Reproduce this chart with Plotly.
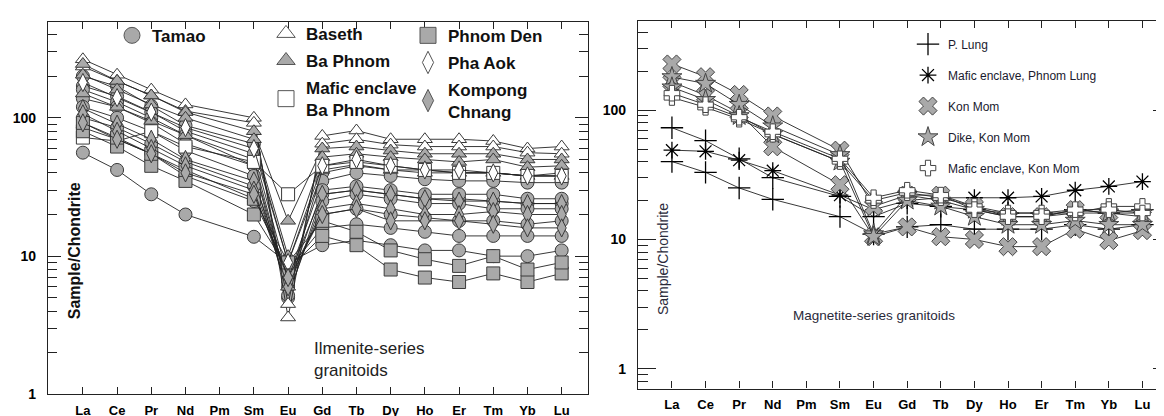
import plotly.graph_objects as go

ELEMENTS = ["La", "Ce", "Pr", "Nd", "Pm", "Sm", "Eu", "Gd", "Tb", "Dy", "Ho", "Er", "Tm", "Yb", "Lu"]
N = None

# ---------- Ilmenite-series granitoids (left panel) ----------
TAMAO = [
    [200, 169, 122, 88, N, 65, 9.0, 40, 45, 42, 42, 40, 40, 38, 40],
    [170, 143, 110, 80, N, 55, 7.0, 35, 40, 38, 36, 35, 35, 34, 34],
    [160, 130, 100, 75, N, 45, 5.0, 28, 30, 28, 26, 26, 25, 24, 24],
    [138, 120, 92, 65, N, 45, 6.0, 30, 32, 30, 28, 28, 28, 26, 26],
    [120, 100, 80, 58, N, 38, 5.2, 25, 28, 26, 24, 24, 22, 22, 22],
    [100, 85, 65, 48, N, 32, 6.5, 20, 22, 20, 19, 18, 18, 17, 18],
    [85, 70, 55, 38, N, 25, 8.0, 16, 17, 16, 15, 14, 14, 14, 14],
    [56, 42, 28, 20, N, 13.8, 8.9, 12, 13, 12, 11, 11, 10, 10, 11],
]
BASETH = [
    [265, 205, 160, 125, N, 100, 3.6, 74, 81, 70, 70, 70, 68, 60, 62],
    [235, 185, 145, 112, N, 92, 4.5, 65, 70, 64, 62, 62, 62, 56, 55],
]
BA_PHNOM = [
    [245, 185, 145, 110, N, 80, 18, 60, 62, 58, 55, 55, 55, 50, 50],
    [205, 160, 125, 100, N, 70, 10, 52, 55, 52, 50, 48, 50, 44, 45],
    [150, 120, 95, 75, N, 50, 6.0, 42, 46, 42, 40, 40, 40, 38, 38],
]
MAFIC_BA_PHNOM = [
    [72, 68, 80, 62, N, 48, 28, 45, 48, 45, 42, 40, 40, 38, 38],
]
PHNOM_DEN = [
    [80, 62, 45, 35, N, 20, 8.0, 14, 12, 8.0, 7.0, 6.5, 7.5, 6.5, 7.5],
    [92, 72, 55, 42, N, 26, 9.0, 18, 15, 11, 9.5, 8.5, 10, 8.0, 9.0],
]
PHA_AOK = [
    [180, 140, 110, 85, N, 60, 9.0, 45, 50, 45, 42, 42, 40, 38, 38],
]
KOMPONG_CHNANG = [
    [117, 90, 70, 50, N, 35, 7.0, 28, 30, 28, 26, 25, 25, 24, 24],
    [107, 80, 60, 45, N, 30, 6.0, 22, 24, 22, 20, 20, 21, 20, 20],
    [92, 70, 55, 40, N, 28, 7.0, 20, 22, 18, 18, 18, 17, 16, 16],
]

# ---------- Magnetite-series granitoids (right panel) ----------
P_LUNG = [
    [73, 58, 42, 30, N, 21.5, 15, 19, 18, 17, 16, 16, 17, 16, 17],
    [40, 33, 25, 20.4, N, 15, 11, 12.5, 13, 12, 12, 12, 13, 12, 13],
]
MAFIC_PHNOM_LUNG = [
    [49, 48, 41, 34, N, 22, 17, 20, 21, 21, 21, 21.5, 24, 25.7, 28],
]
KON_MOM = [
    [227, 181, 132, 90, N, 49, 18, 22, 22, 18, 15, 15, 17, 16, 15],
    [165, 130, 95, 52, N, 26.5, 10.5, 12.5, 10.5, 10, 8.8, 8.8, 12, 9.8, 11.7],
]
DIKE_KON_MOM = [
    [180, 160, 110, 75, N, 45, 11, 22, 20, 17, 15, 15, 16, 16, 16],
    [150, 120, 90, 65, N, 40, 10.5, 20, 18, 15, 13, 13, 14, 13, 13],
]
MAFIC_KON_MOM = [
    [125, 105, 85, 65, N, 40, 20, 23, 21, 18, 16, 16, 16, 18, 18],
    [135, 110, 88, 68, N, 42, 21, 24, 22, 17, 15, 15, 17, 17, 16],
]

GRAY = "#a9a9a9"
EDGE = "#3a3a3a"

LEFT_GROUPS = [
    ("Tamao", TAMAO, "circle", GRAY, "legend"),
    ("Baseth", BASETH, "triangle-up", "white", "legend2"),
    ("Ba Phnom", BA_PHNOM, "triangle-up", GRAY, "legend2"),
    ("Mafic enclave<br>Ba Phnom", MAFIC_BA_PHNOM, "square", "white", "legend2"),
    ("Phnom Den", PHNOM_DEN, "square", GRAY, "legend3"),
    ("Pha Aok", PHA_AOK, "diamond-tall", "white", "legend3"),
    ("Kompong<br>Chnang", KOMPONG_CHNANG, "diamond-tall", GRAY, "legend3"),
]
RIGHT_GROUPS = [
    ("P. Lung", P_LUNG, "cross-thin", "black", 1.3, 16),
    ("Mafic enclave, Phnom Lung", MAFIC_PHNOM_LUNG, "asterisk", "black", 1.3, 14),
    ("Kon Mom", KON_MOM, "x", GRAY, 1.0, 16),
    ("Dike, Kon Mom", DIKE_KON_MOM, "star", GRAY, 1.0, 15),
    ("Mafic enclave, Kon Mom", MAFIC_KON_MOM, "cross", "white", 1.0, 13),
]

fig = go.Figure()

for gi, (name, rows, sym, fill, leg) in enumerate(LEFT_GROUPS):
    for row in rows:
        fig.add_trace(go.Scatter(
            x=ELEMENTS, y=row, mode="lines+markers", connectgaps=True,
            line=dict(color="#222", width=0.9),
            marker=dict(symbol=sym, size=13, color=fill, line=dict(color=EDGE, width=1)),
            showlegend=False, xaxis="x", yaxis="y", hoverinfo="skip"))
    fig.add_trace(go.Scatter(
        x=[None], y=[None], mode="markers", name="<b>%s</b>" % name.replace("<br>", "</b><br><b>"),
        legend=leg, legendgroup="L%d" % gi,
        marker=dict(symbol=sym, size=17, color=fill, line=dict(color="#555", width=1)),
        xaxis="x", yaxis="y"))

for gi, (name, rows, sym, fill, lw, size) in enumerate(RIGHT_GROUPS):
    edge = "black" if fill == "black" else "#444"
    for row in rows:
        fig.add_trace(go.Scatter(
            x=ELEMENTS, y=row, mode="lines+markers", connectgaps=True,
            line=dict(color="#222", width=0.9),
            marker=dict(symbol=sym, size=size, color=fill, line=dict(color=edge, width=lw)),
            showlegend=False, xaxis="x2", yaxis="y2", hoverinfo="skip"))
    fig.add_trace(go.Scatter(
        x=[None], y=[None], mode="markers", name=name, legend="legend4",
        legendgroup="R%d" % gi,
        marker=dict(symbol=sym, size=size, color=fill, line=dict(color=edge, width=lw)),
        xaxis="x2", yaxis="y2"))

W, H = 1164, 416
def px(x):
    return x / W
def py(y):
    return 1 - y / H

MINOR = [2, 3, 4, 5, 6, 7, 8, 9, 20, 30, 40, 50, 60, 70, 80, 90, 200, 300, 400]
MINOR_R = [0.8, 0.9] + MINOR
xfont = dict(family="Liberation Sans", size=13, color="black")
common_x = dict(type="category", categoryorder="array", categoryarray=ELEMENTS,
                showline=True, linecolor="#222", linewidth=1.2, mirror="ticks",
                ticks="inside", ticklen=7, tickcolor="#222", tickwidth=1.2,
                showgrid=False, zeroline=False, tickfont=xfont, ticklabelstandoff=4)
common_y = dict(type="log", showline=True, linecolor="#222", linewidth=1.2, mirror="ticks",
                ticks="inside", ticklen=13, tickcolor="#222", tickwidth=1.2,
                tickvals=[1, 10, 100], ticktext=["<b>1</b>", "<b>10</b>", "<b>100</b>"],
                showgrid=False, zeroline=False, ticklabelstandoff=8,
                tickfont=dict(family="Liberation Sans", size=14, color="black"))

LEG_FONT = dict(family="Liberation Sans", size=17, color="#111")

fig.update_layout(
    width=W, height=H, margin=dict(l=0, r=0, t=0, b=0),
    paper_bgcolor="white", plot_bgcolor="white",
    xaxis=dict(common_x, domain=[px(40), px(580)], range=[-1.02, 14.77], anchor="y",
               tickvals=ELEMENTS, ticktext=["<b>%s</b>" % e for e in ELEMENTS]),
    yaxis=dict(common_y, domain=[py(394), py(14)], range=[0, 2.695], anchor="x",
               minor=dict(tickvals=MINOR, ticks="inside", ticklen=9, tickcolor="#222", tickwidth=1.1)),
    xaxis2=dict(common_x, domain=[px(630), px(1163)], range=[-1.01, 14.85], anchor="y2",
                tickvals=ELEMENTS, ticktext=["<b>%s</b>" % e for e in ELEMENTS]),
    yaxis2=dict(common_y, domain=[py(388), py(13)], range=[-0.152, 2.69], anchor="x2",
                ticklen=18,
                minor=dict(tickvals=MINOR_R, ticks="inside", ticklen=10, tickcolor="#222", tickwidth=1.1)),
    legend=dict(x=px(104), y=py(10), xanchor="left", yanchor="top", bgcolor="rgba(0,0,0,0)",
                font=LEG_FONT, itemwidth=30, traceorder="grouped", tracegroupgap=2),
    legend2=dict(x=px(258), y=py(8), xanchor="left", yanchor="top", bgcolor="rgba(0,0,0,0)",
                 font=LEG_FONT, itemwidth=30, traceorder="grouped", tracegroupgap=2),
    legend3=dict(x=px(400), y=py(10), xanchor="left", yanchor="top", bgcolor="rgba(0,0,0,0)",
                 font=LEG_FONT, itemwidth=30, traceorder="grouped", tracegroupgap=2),
    legend4=dict(x=px(900), y=py(22), xanchor="left", yanchor="top", bgcolor="rgba(0,0,0,0)",
                 font=dict(family="Liberation Sans", size=12, color="#1a1a2e"), itemwidth=30,
                 traceorder="grouped", tracegroupgap=12),
    annotations=[
        dict(text="<b>Sample/Chondrite</b>", x=px(66), y=py(248), xref="paper", yref="paper",
             xanchor="center", yanchor="middle",
             textangle=-90, showarrow=False, font=dict(family="Liberation Sans", size=16, color="#111")),
        dict(text="Ilmenite-series<br>granitoids", x=px(304), y=py(358), xref="paper", yref="paper",
             xanchor="left", yanchor="middle", align="left", showarrow=False,
             font=dict(family="Liberation Sans", size=17, color="#222")),
        dict(text="Sample/Chondrite", x=px(655), y=py(256), xref="paper", yref="paper",
             xanchor="center", yanchor="middle",
             textangle=-90, showarrow=False, font=dict(family="Liberation Sans", size=14, color="#2a2a3a")),
        dict(text="Magnetite-series granitoids", x=px(783), y=py(314), xref="paper", yref="paper",
             xanchor="left", yanchor="middle", showarrow=False,
             font=dict(family="Liberation Sans", size=13.5, color="#2a2a3a")),
    ],
)

fig.write_html("out.html")
